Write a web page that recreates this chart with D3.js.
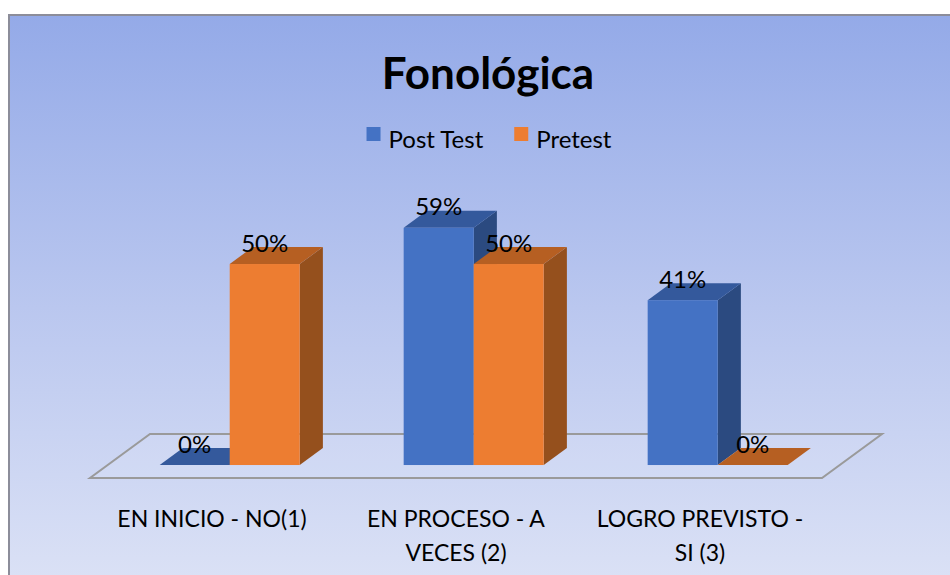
<!DOCTYPE html>
<meta charset="utf-8">
<style>
body { margin: 0; background: #fff; }
text { font-family: Lato, "Open Sans", sans-serif; fill: #000; }
</style>
<svg width="950" height="575"></svg>
<script src="https://cdn.jsdelivr.net/npm/d3@7"></script>
<script>

var categories = ["EN INICIO - NO(1)", "EN PROCESO - A VECES (2)", "LOGRO PREVISTO - SI (3)"];
var catLines = [["EN INICIO - NO(1)"], ["EN PROCESO - A", "VECES (2)"], ["LOGRO PREVISTO -", "SI (3)"]];
var seriesNames = ["Post Test", "Pretest"];
var postTest = [0, 59, 41];
var pretest = [50, 50, 0];

var colors = {
  "Post Test": { front: "#4472c4", top: "#34599c", side: "#2b4a80" },
  "Pretest":   { front: "#ed7d31", top: "#b65f22", side: "#95501d" }
};

var svg = d3.select("svg"),
    width = +svg.attr("width"),
    height = +svg.attr("height");

// background
var defs = svg.append("defs");
var grad = defs.append("linearGradient")
    .attr("id", "bg")
    .attr("x1", 0).attr("y1", 0).attr("x2", 0).attr("y2", 1);
grad.append("stop").attr("offset", "0%").attr("stop-color", "#94aae8");
grad.append("stop").attr("offset", "50%").attr("stop-color", "#bac7ef");
grad.append("stop").attr("offset", "100%").attr("stop-color", "#dde3f6");

svg.append("rect")
    .attr("x", 9).attr("y", 15)
    .attr("width", width + 10).attr("height", height + 10)
    .attr("fill", "url(#bg)")
    .attr("stroke", "#8c8d9a")
    .attr("stroke-width", 2);

// 3d projection settings
var floorFront = 478,
    depth = [60, -44],     // full floor depth
    barStart = 0.295,      // bar front face position in depth
    barDepth = 0.386;

var x0 = d3.scaleBand()
    .domain(categories)
    .range([90, 822])
    .paddingInner(0.426)
    .paddingOuter(0.213);

var x1 = d3.scaleBand()
    .domain(seriesNames)
    .range([0, x0.bandwidth()]);

var baseY = floorFront + depth[1] * barStart;
var y = d3.scaleLinear()
    .domain([0, 100])
    .range([baseY, baseY - 402]);

var off = [depth[0] * barStart, depth[1] * barStart];
var dd = [depth[0] * barDepth, depth[1] * barDepth];

// floor
var fx0 = x0.range()[0], fx1 = x0.range()[1];
svg.append("path")
    .attr("d", "M" + fx0 + "," + floorFront +
               "L" + fx1 + "," + floorFront +
               "L" + (fx1 + depth[0]) + "," + (floorFront + depth[1]) +
               "L" + (fx0 + depth[0]) + "," + (floorFront + depth[1]) + "Z")
    .attr("fill", "#ffffff")
    .attr("fill-opacity", 0.08)
    .attr("stroke", "#9a9a9a")
    .attr("stroke-width", 2);

// bars
var bars = [];
categories.forEach(function(c, i) {
  bars.push({ cat: c, series: "Post Test", value: postTest[i] });
  bars.push({ cat: c, series: "Pretest", value: pretest[i] });
});

var g = svg.append("g");
bars.forEach(function(d) {
  var xl = x0(d.cat) + x1(d.series) + off[0],
      xr = xl + x1.bandwidth(),
      yt = y(d.value),
      yb = baseY,
      col = colors[d.series];

  if (d.value > 0) {
    g.append("path")
        .attr("d", "M" + xr + "," + yt + "L" + (xr + dd[0]) + "," + (yt + dd[1]) +
                   "L" + (xr + dd[0]) + "," + (yb + dd[1]) + "L" + xr + "," + yb + "Z")
        .attr("fill", col.side);
  }
  g.append("path")
      .attr("d", "M" + xl + "," + yt + "L" + xr + "," + yt +
                 "L" + (xr + dd[0]) + "," + (yt + dd[1]) + "L" + (xl + dd[0]) + "," + (yt + dd[1]) + "Z")
      .attr("fill", col.top);
  if (d.value > 0) {
    g.append("rect")
        .attr("x", xl).attr("y", yt)
        .attr("width", xr - xl).attr("height", yb - yt)
        .attr("fill", col.front);
  }
  g.append("text")
      .attr("x", (xl + xr) / 2)
      .attr("y", yt - 12.5)
      .attr("text-anchor", "middle")
      .style("font-size", "24px")
      .text(d.value + "%");
});

// category labels
var lab = svg.append("g");
categories.forEach(function(c, i) {
  var t = lab.append("text")
      .attr("x", x0(c) + x0.bandwidth() / 2)
      .attr("y", 527)
      .attr("text-anchor", "middle")
      .style("font-size", "23px");
  catLines[i].forEach(function(l, j) {
    t.append("tspan")
        .attr("x", x0(c) + x0.bandwidth() / 2)
        .attr("dy", j === 0 ? 0 : 34)
        .text(l);
  });
});

// title
svg.append("text")
    .attr("x", 488)
    .attr("y", 89)
    .attr("text-anchor", "middle")
    .style("font-size", "44px")
    .style("font-weight", "bold")
    .text("Fonológica");

// legend
var legend = svg.append("g");
var lx = 0;
seriesNames.forEach(function(s, i) {
  var item = legend.append("g").attr("transform", "translate(" + lx + ",0)");
  item.append("rect")
      .attr("x", 0).attr("y", 127)
      .attr("width", 14).attr("height", 14)
      .attr("fill", colors[s].front);
  var t = item.append("text")
      .attr("x", 22)
      .attr("y", 148)
      .style("font-size", "24px")
      .text(s);
  lx += 22 + t.node().getComputedTextLength() + 31;
});
var lw = lx - 31;
legend.attr("transform", "translate(" + (489 - lw / 2) + ",0)");

</script>
